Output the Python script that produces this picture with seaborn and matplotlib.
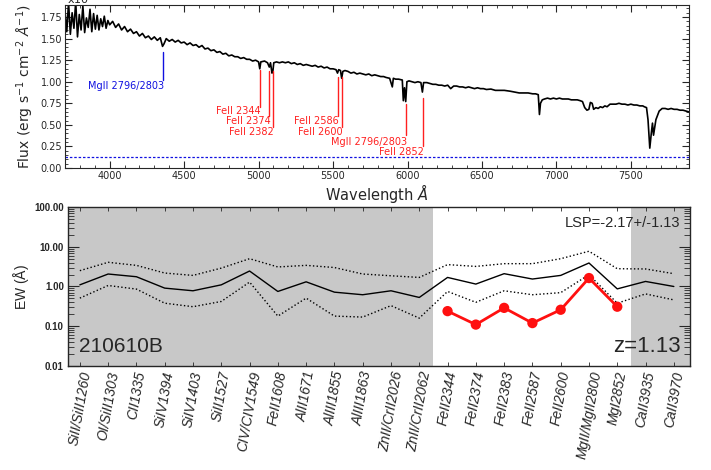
import numpy as np
import pandas as pd
import seaborn as sns
import matplotlib
matplotlib.use("Agg")
import matplotlib.pyplot as plt
from matplotlib.ticker import MultipleLocator, LogLocator, FixedLocator, NullFormatter

# ---- spectrum (flux in units of 1e-17) ----
wave = [3700, 3712, 3724, 3736, 3748, 3760, 3772, 3784, 3796, 3808, 3820, 3832,
        3844, 3856, 3868, 3880, 3892, 3904, 3916, 3928, 3940, 3952, 3964, 3976,
        3988, 4000, 4020, 4040, 4060, 4080, 4100, 4120, 4140, 4160, 4180, 4200,
        4220, 4240, 4260, 4280, 4300, 4320, 4340, 4355, 4365, 4380, 4400, 4420,
        4440, 4460, 4480, 4500, 4520, 4540, 4560, 4580, 4600, 4620, 4640, 4660,
        4680, 4700, 4720, 4740, 4760, 4780, 4800, 4820, 4840, 4860, 4880, 4900,
        4920, 4940, 4960, 4980, 5000, 5008, 5015, 5040, 5060, 5072, 5080, 5090,
        5096, 5102, 5120, 5140, 5160, 5180, 5200, 5220, 5240, 5260, 5280, 5300,
        5320, 5340, 5360, 5380, 5400, 5420, 5440, 5460, 5480, 5500, 5520, 5530,
        5538, 5550, 5558, 5566, 5580, 5600, 5620, 5640, 5660, 5680, 5700, 5720,
        5740, 5760, 5780, 5800, 5820, 5840, 5855, 5880, 5898, 5905, 5920, 5940,
        5965, 5972, 5980, 5988, 5996, 6010, 6030, 6050, 6070, 6090, 6100, 6108,
        6130, 6150, 6170, 6190, 6210, 6230, 6250, 6270, 6290, 6310, 6330, 6350,
        6370, 6390, 6410, 6430, 6450, 6470, 6490, 6510, 6530, 6560, 6590, 6620,
        6650, 6690, 6720, 6750, 6780, 6810, 6840, 6860, 6878, 6886, 6893, 6905,
        6920, 6940, 6960, 6980, 7000, 7020, 7040, 7060, 7080, 7100, 7120, 7140,
        7160, 7175, 7190, 7205, 7218, 7228, 7240, 7250, 7265, 7280, 7295, 7310,
        7325, 7340, 7360, 7380, 7400, 7420, 7440, 7460, 7480, 7500, 7520, 7540,
        7560, 7580, 7590, 7605, 7615, 7627, 7637, 7645, 7652, 7668, 7690, 7710,
        7730, 7750, 7770, 7790, 7810, 7830, 7850, 7870, 7890]
flux = [1.82, 1.58, 1.92, 1.55, 1.80, 1.62, 1.93, 1.52, 1.78, 1.60, 1.88, 1.57,
        1.74, 1.63, 1.84, 1.58, 1.79, 1.61, 1.77, 1.60, 1.73, 1.64, 1.76, 1.62,
        1.71, 1.66, 1.70, 1.63, 1.67, 1.60, 1.64, 1.58, 1.61, 1.56, 1.58, 1.53,
        1.56, 1.51, 1.53, 1.49, 1.52, 1.48, 1.51, 1.41, 1.44, 1.50, 1.47, 1.49,
        1.46, 1.48, 1.45, 1.46, 1.43, 1.45, 1.42, 1.43, 1.40, 1.42, 1.38, 1.39,
        1.36, 1.37, 1.34, 1.35, 1.32, 1.33, 1.30, 1.31, 1.29, 1.29, 1.27, 1.28,
        1.26, 1.26, 1.24, 1.25, 1.23, 1.15, 1.23, 1.24, 1.22, 1.17, 1.22, 1.10,
        1.12, 1.22, 1.23, 1.22, 1.23, 1.22, 1.23, 1.21, 1.22, 1.20, 1.21, 1.19,
        1.20, 1.19, 1.18, 1.19, 1.17, 1.18, 1.16, 1.17, 1.15, 1.15, 1.14, 1.10,
        1.14, 1.13, 1.04, 1.12, 1.13, 1.12, 1.10, 1.11, 1.09, 1.10, 1.09, 1.08,
        1.09, 1.07, 1.08, 1.07, 1.06, 1.06, 1.05, 1.04, 0.94, 1.04, 1.03, 1.03,
        1.02, 0.78, 0.93, 0.77, 1.00, 1.01, 1.00, 0.99, 1.00, 0.99, 0.88, 0.99,
        0.99, 0.98, 0.97, 0.97, 0.96, 0.96, 0.95, 0.96, 0.92, 0.95, 0.95, 0.94,
        0.94, 0.93, 0.94, 0.93, 0.92, 0.93, 0.92, 0.92, 0.91, 0.915, 0.90, 0.90,
        0.90, 0.89, 0.88, 0.87, 0.87, 0.87, 0.86, 0.86, 0.85, 0.62, 0.75, 0.79,
        0.80, 0.81, 0.80, 0.81, 0.80, 0.81, 0.80, 0.80, 0.80, 0.79, 0.79, 0.79,
        0.78, 0.77, 0.70, 0.67, 0.68, 0.76, 0.75, 0.68, 0.70, 0.69, 0.71, 0.70,
        0.72, 0.71, 0.74, 0.74, 0.74, 0.75, 0.74, 0.74, 0.73, 0.74, 0.73, 0.73,
        0.72, 0.72, 0.71, 0.70, 0.56, 0.23, 0.40, 0.52, 0.38, 0.56, 0.66, 0.69,
        0.69, 0.68, 0.69, 0.68, 0.68, 0.67, 0.67, 0.66, 0.65]
err_level = 0.13

# absorption line markers: wavelength, line top, line bottom, label, label y
mark_wave = [4360, 5008, 5072, 5095, 5532, 5559, 5990, 6104]
mark_top = [1.35, 1.14, 1.13, 1.13, 1.05, 1.05, 0.74, 0.81]
mark_bot = [1.02, 0.71, 0.60, 0.48, 0.60, 0.48, 0.38, 0.25]
mark_text = ["MgII 2796/2803", "FeII 2344", "FeII 2374", "FeII 2382",
             "FeII 2586", "FeII 2600", "MgII 2796/2803", "FeII 2852"]
mark_lab_y = [0.95, 0.66, 0.55, 0.42, 0.55, 0.42, 0.305, 0.18]
mark_color = ["#1010e0"] + ["#ff2020"] * 7

# ---- equivalent widths ----
ions = ["SiII/SiII1260", "OI/SiII1303", "CII1335", "SiIV1394", "SiIV1403",
        "SiII1527", "CIV/CIV1549", "FeII1608", "AlII1671", "AlIII1855",
        "AlIII1863", "ZnII/CrII2026", "ZnII/CrII2062", "FeII2344", "FeII2374",
        "FeII2383", "FeII2587", "FeII2600", "MgII/MgII2800", "MgI2852",
        "CaII3935", "CaII3970"]
ew_mean = [1.10, 2.06, 1.76, 0.91, 0.78, 1.10, 2.45, 0.75, 1.31, 0.72, 0.62,
           0.78, 0.53, 1.69, 1.15, 2.10, 1.54, 1.90, 3.90, 0.87, 1.34, 1.00]
ew_hi = [2.50, 4.06, 3.40, 2.18, 1.90, 2.90, 5.00, 3.10, 3.40, 3.00, 2.06,
         1.86, 1.69, 3.55, 3.20, 3.75, 3.75, 5.00, 7.70, 2.80, 2.76, 2.10]
ew_lo = [0.51, 1.06, 0.86, 0.38, 0.31, 0.42, 1.29, 0.18, 0.51, 0.18, 0.17,
         0.33, 0.16, 0.75, 0.40, 0.78, 0.62, 0.70, 1.98, 0.38, 0.65, 0.46]
grb_ions = ["FeII2344", "FeII2374", "FeII2383", "FeII2587", "FeII2600",
            "MgII/MgII2800", "MgI2852"]
grb_ew = [0.24, 0.11, 0.29, 0.12, 0.26, 1.63, 0.31]
covered = (12.5, 19.5)  # ion range covered by the spectrum

spec = pd.DataFrame({"wave": wave, "flux": flux})
ew = pd.DataFrame({"pos": np.arange(len(ions)), "mean": ew_mean,
                   "hi": ew_hi, "lo": ew_lo})
grb = pd.DataFrame({"pos": [ions.index(i) for i in grb_ions], "ew": grb_ew})

sns.set_style("ticks")
plt.rcParams["font.family"] = ["DejaVu Sans"]

fig = plt.figure(figsize=(7.11, 4.70), dpi=100)

# ---------- top panel: spectrum ----------
ax1 = fig.add_axes([0.0914, 0.6426, 0.8776, 0.3468])
sns.lineplot(data=spec, x="wave", y="flux", ax=ax1, color="black", lw=1.2,
             estimator=None, sort=False)
ax1.axhline(err_level, color="#1010e0", ls="--", lw=0.9, dashes=(2, 1.5))
for w, t, b, s, ly, c in zip(mark_wave, mark_top, mark_bot, mark_text,
                             mark_lab_y, mark_color):
    ax1.plot([w, w], [b, t], color=c, lw=1.0)
    ax1.text(w + 8, ly, s, color=c, fontsize=7, ha="right", va="center")
ax1.set_xlim(3700, 7890)
ax1.set_ylim(0, 1.89)
ax1.xaxis.set_major_locator(MultipleLocator(500))
ax1.xaxis.set_minor_locator(MultipleLocator(100))
ax1.yaxis.set_major_locator(MultipleLocator(0.25))
ax1.yaxis.set_minor_locator(MultipleLocator(0.05))
ax1.tick_params(which="both", direction="in", top=True, right=True,
                labelsize=7, pad=2)
ax1.tick_params(which="major", length=5, width=0.8)
ax1.tick_params(which="minor", length=2.5, width=0.6)
ax1.set_xlabel("Wavelength $\\AA$", fontsize=10.5, labelpad=1)
ax1.set_ylabel("Flux (erg s$^{-1}$ cm$^{-2}$ $\\AA^{-1}$)", fontsize=10, labelpad=3)
for sp in ax1.spines.values():
    sp.set_linewidth(0.8)
fig.text(0.094, 0.993, "x10$^{-17}$", fontsize=8, va="baseline")

# ---------- bottom panel: EW per ion ----------
ax2 = fig.add_axes([0.0956, 0.2213, 0.8748, 0.3383])
ax2.axvspan(-0.5, covered[0], color="#c8c8c8", lw=0, zorder=0)
ax2.axvspan(covered[1], len(ions), color="#c8c8c8", lw=0, zorder=0)
sns.lineplot(data=ew, x="pos", y="mean", ax=ax2, color="black", lw=1.0)
sns.lineplot(data=ew, x="pos", y="hi", ax=ax2, color="black", lw=1.0, ls=":")
sns.lineplot(data=ew, x="pos", y="lo", ax=ax2, color="black", lw=1.0, ls=":")
sns.lineplot(data=grb, x="pos", y="ew", ax=ax2, color="#ff1010", lw=2.0)
sns.scatterplot(data=grb, x="pos", y="ew", ax=ax2, color="#ff1010", s=55,
                edgecolor="none", zorder=5)
ax2.set_yscale("log")
ax2.set_ylim(0.01, 100)
ax2.set_xlim(-0.42, 21.57)
ax2.yaxis.set_major_locator(FixedLocator([0.01, 0.1, 1, 10, 100]))
ax2.yaxis.set_minor_locator(LogLocator(base=10, subs=np.arange(2, 10), numticks=20))
ax2.yaxis.set_minor_formatter(NullFormatter())
ax2.set_yticklabels(["0.01", "0.10", "1.00", "10.00", "100.00"],
                    fontsize=7, fontfamily="Liberation Sans", fontweight="bold")
ax2.set_xticks(np.arange(len(ions)))
ax2.set_xticklabels(ions, rotation=80, fontsize=10, fontstyle="italic",
                    fontfamily="Liberation Sans")
ax2.tick_params(which="both", direction="in", top=True, right=True, pad=3)
ax2.tick_params(axis="x", length=3, width=0.6)
ax2.tick_params(axis="y", which="major", length=8, width=0.8)
ax2.tick_params(axis="y", which="minor", length=4.5, width=0.6)
ax2.set_xlabel("")
ax2.set_ylabel("EW ($\\mathrm{\\AA}$)", fontsize=10, fontfamily="Liberation Sans",
               labelpad=2)
for sp in ax2.spines.values():
    sp.set_linewidth(1.0)
ax2.text(0.985, 0.90, "LSP=-2.17+/-1.13", transform=ax2.transAxes, ha="right",
         va="center", fontsize=10.5, fontfamily="Liberation Sans")
ax2.text(0.018, 0.12, "210610B", transform=ax2.transAxes, ha="left",
         va="center", fontsize=15, fontfamily="Liberation Sans")
ax2.text(0.985, 0.12, "z=1.13", transform=ax2.transAxes, ha="right",
         va="center", fontsize=16, fontfamily="Liberation Sans")

fig.savefig("out.png", dpi=100)
